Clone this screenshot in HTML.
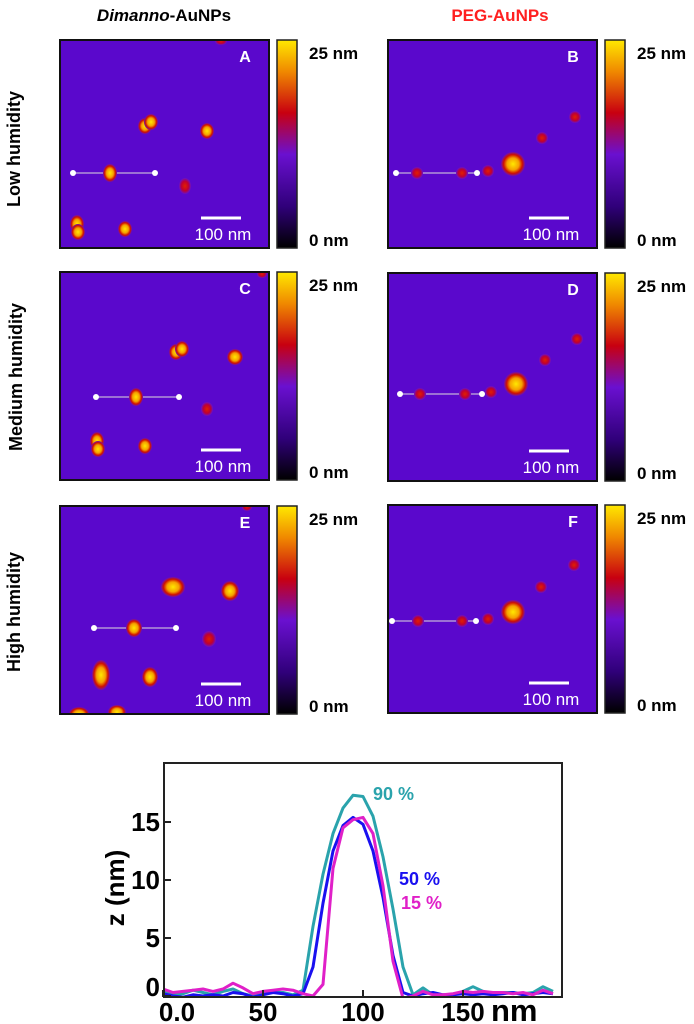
<!DOCTYPE html>
<html><head><meta charset="utf-8">
<style>
body{margin:0;background:#fff;width:694px;height:1024px;overflow:hidden;font-family:"Liberation Sans",sans-serif}
svg{display:block}
</style></head>
<body>
<svg id="fig" width="694" height="1024" viewBox="0 0 694 1024">
<defs>
<linearGradient id="cbar" x1="0" y1="1" x2="0" y2="0">
<stop offset="0" stop-color="#000"/>
<stop offset="0.2" stop-color="#30007a"/>
<stop offset="0.45" stop-color="#6a10d0"/>
<stop offset="0.65" stop-color="#c80010"/>
<stop offset="0.85" stop-color="#f08a00"/>
<stop offset="1" stop-color="#ffe800"/>
</linearGradient>
<radialGradient id="pBig"><stop offset="0" stop-color="#ffe800"/><stop offset="0.5" stop-color="#f5a000"/><stop offset="0.78" stop-color="#d01000"/><stop offset="1" stop-color="#7010b0"/></radialGradient>
<radialGradient id="pSmall"><stop offset="0" stop-color="#e02000"/><stop offset="0.6" stop-color="#c00030"/><stop offset="1" stop-color="#6a10c8"/></radialGradient>
</defs>
<text x="164" y="21" font-size="17" font-weight="bold" text-anchor="middle"><tspan font-style="italic">Dimanno</tspan>-AuNPs</text>
<text x="500" y="21" font-size="17" font-weight="bold" fill="#ff2020" text-anchor="middle">PEG-AuNPs</text>
<text transform="translate(20,149) rotate(-90)" font-size="18" font-weight="bold" text-anchor="middle">Low humidity</text>
<text transform="translate(22,377) rotate(-90)" font-size="18" font-weight="bold" text-anchor="middle">Medium humidity</text>
<text transform="translate(20,612) rotate(-90)" font-size="18" font-weight="bold" text-anchor="middle">High humidity</text>
<g id="panels"></g>
<g id="chart"></g>
</svg>
<script>
const NS="http://www.w3.org/2000/svg";
function mk(tag,attrs,parent){const e=document.createElementNS(NS,tag);for(const k in attrs)e.setAttribute(k,attrs[k]);parent.appendChild(e);return e;}
const panelsG=document.getElementById('panels');
const panels=[
 {id:'A',x:60,y:40,line:[73,155,173],parts:[[145,126,7,8,'b'],[151,122,7,8,'b'],[207,131,7,8,'b'],[110,173,7,9,'b'],[185,186,6,8,'s'],[77,224,7,9,'b'],[78,232,7,8,'b'],[125,229,7,8,'b'],[221,41,6,4,'s']]},
 {id:'B',x:388,y:40,line:[396,477,173],parts:[[417,173,6,6,'s'],[462,173,6,6,'s'],[488,171,6,6,'s'],[513,164,12,12,'b'],[542,138,6,6,'s'],[575,117,6,6,'s']]},
 {id:'C',x:60,y:272,line:[96,179,397],parts:[[176,352,7,8,'b'],[182,349,7,8,'b'],[235,357,8,8,'b'],[136,397,7,9,'b'],[207,409,6,7,'s'],[97,441,7,9,'b'],[98,449,7,8,'b'],[145,446,7,8,'b'],[262,274,5,4,'s']]},
 {id:'D',x:388,y:273,line:[400,482,394],parts:[[420,394,6,6,'s'],[465,394,6,6,'s'],[491,392,6,6,'s'],[516,384,12,12,'b'],[545,360,6,6,'s'],[577,339,6,6,'s']]},
 {id:'E',x:60,y:506,line:[94,176,628],parts:[[173,587,12,10,'b'],[230,591,9,10,'b'],[134,628,8,9,'b'],[209,639,7,8,'s'],[101,675,9,15,'b'],[150,677,8,10,'b'],[79,714,10,7,'b'],[117,712,9,7,'b'],[247,507,5,4,'s']]},
 {id:'F',x:388,y:505,line:[392,476,621],parts:[[418,621,6,6,'s'],[462,621,6,6,'s'],[488,619,6,6,'s'],[513,612,12,12,'b'],[541,587,6,6,'s'],[574,565,6,6,'s']]}
];
panels.forEach(p=>{
 const g=mk('g',{},panelsG);
 
 
 const cp='clip'+p.id;
 const c=mk('clipPath',{id:cp},g);mk('rect',{x:p.x,y:p.y,width:209,height:208},c);
 const bg=mk('rect',{x:p.x,y:p.y,width:209,height:208,fill:'#5a08cc'},g);
 
 
 const pg=mk('g',{'clip-path':'url(#'+cp+')'},g);
 mk('line',{x1:p.line[0],x2:p.line[1],y1:p.line[2],y2:p.line[2],stroke:'#ddd','stroke-width':1},pg);
 p.parts.forEach(q=>{
  const e=mk('ellipse',{cx:q[0],cy:q[1],rx:q[2],ry:q[3],fill:q[4]=='b'?'url(#pBig)':'url(#pSmall)'},pg);
  
  
 });
 [p.line[0],p.line[1]].forEach(x=>{const d=mk('circle',{cx:x,cy:p.line[2],r:3,fill:'#fff'},pg);
  
  });
 mk('rect',{x:p.x,y:p.y,width:209,height:208,fill:'none',stroke:'#111','stroke-width':2},g);
 const lb=mk('text',{x:p.x+185,y:p.y+22,'font-size':16,'font-weight':'bold',fill:'#fff','text-anchor':'middle'},g);lb.textContent=p.id;
 
 
 mk('line',{x1:p.x+141,x2:p.x+181,y1:p.y+178,y2:p.y+178,stroke:'#fff','stroke-width':3},g);
 const sb=mk('text',{x:p.x+163,y:p.y+200,'font-size':17,fill:'#fff','text-anchor':'middle'},g);sb.textContent='100 nm';
 
 
 const cx=p.x+217;
 const cb=mk('rect',{x:cx,y:p.y,width:20,height:208,fill:'url(#cbar)',stroke:'#222','stroke-width':1.5},g);
 
 
 const t1=mk('text',{x:cx+32,y:p.y+19,'font-size':17,'font-weight':'bold'},g);t1.textContent='25 nm';
 
 
 const t0=mk('text',{x:cx+32,y:p.y+206,'font-size':17,'font-weight':'bold'},g);t0.textContent='0 nm';
 
 
});

/* ---- height profile chart data ---- */
const xs=[0,5,10,15,20,25,30,35,40,45,50,55,60,65,70,75,80,85,90,95,100,105,110,115,120,125,130,135,140,145,150,155,160,165,170,175,180,185,190,195];
const h90=[0.4,0.1,0.2,0.5,0.3,0.1,0.4,0.6,0.2,0.0,0.2,0.3,0.3,0.1,0.5,6,10.5,14,16.2,17.3,17.2,15.5,12,7.5,2.5,0.1,0.7,0.1,0.0,0.1,0.4,0.8,0.4,0.2,0.3,0.3,0.2,0.3,0.8,0.4];
const h50=[0.2,0.0,-0.1,0.1,0.0,0.1,0.0,0.3,0.2,-0.1,0.1,0.3,0.2,0.0,0.2,2.5,8,12.5,14.7,15.4,14.8,12.5,8.5,3.5,0.3,0.0,0.2,0.3,0.1,0.1,0.2,0.1,0.2,0.1,0.2,0.3,0.1,0.2,0.3,0.2];
const h15=[0.6,0.3,0.4,0.5,0.6,0.4,0.6,1.1,0.7,0.2,0.4,0.5,0.6,0.5,0.2,0.0,1.0,11,14.5,15.2,15.4,14,9.5,3,-0.2,0.0,0.4,0.1,0.1,0.2,0.4,0.3,0.4,0.3,0.3,0.2,0.3,0.1,0.5,0.2];
const xTicks=[0,50,100,150];
const xTickLabels=['0.0','50','100','150'];
const yTicks=[0,5,10,15];
const L=164,R=562,T=763,B=997;
const X=v=>163+v*2.0, Y=v=>996-v*11.6;
const ch=document.getElementById('chart');
const cl=mk('clipPath',{id:'plotclip'},ch);mk('rect',{x:L,y:T,width:R-L,height:B-T},cl);
const series=[[h90,'#2aa3ac','series-90'],[h50,'#1a10f0','series-50'],[h15,'#e020c8','series-15']];
const sg=mk('g',{'clip-path':'url(#plotclip)'},ch);
series.forEach(s=>{
 const d=s[0].map((v,i)=>(i?'L':'M')+X(xs[i]).toFixed(1)+','+Y(v).toFixed(1)).join('');
 const pth=mk('path',{d:d,fill:'none',stroke:s[1],'stroke-width':3,'stroke-linejoin':'round'},sg);
 
 
});
const fr=mk('rect',{x:L,y:T,width:R-L,height:B-T,fill:'none',stroke:'#222','stroke-width':2},ch);


xTicks.forEach((v,i)=>{
 mk('line',{x1:X(v),x2:X(v),y1:B,y2:B-7,stroke:'#222','stroke-width':2},ch);
 const t=mk('text',{x:X(v)+(i==0?14:0),y:1021,'font-size':26,'font-weight':'bold','text-anchor':'middle'},ch);t.textContent=xTickLabels[i];
 
 
});
yTicks.forEach(v=>{
 mk('line',{x1:L,x2:L+7,y1:Y(v),y2:Y(v),stroke:'#222','stroke-width':2},ch);
 const t=mk('text',{x:160,y:Y(v)+9-(v==0?9:0),'font-size':26,'font-weight':'bold','text-anchor':'end'},ch);t.textContent=v;
 
 
});
const xu=mk('text',{x:491,y:1021,'font-size':31,'font-weight':'bold'},ch);xu.textContent='nm';


const yl=mk('text',{transform:'translate(124,888) rotate(-90)','font-size':26,'font-weight':'bold','text-anchor':'middle'},ch);yl.textContent='z (nm)';


[['90 %',373,800,'#2aa3ac','label-90'],['50 %',399,885,'#1a10f0','label-50'],['15 %',401,909,'#e020c8','label-15']].forEach(a=>{
 const t=mk('text',{x:a[1],y:a[2],'font-size':18,'font-weight':'bold',fill:a[3]},ch);t.textContent=a[0];
 
 
});
</script>
</body></html>
